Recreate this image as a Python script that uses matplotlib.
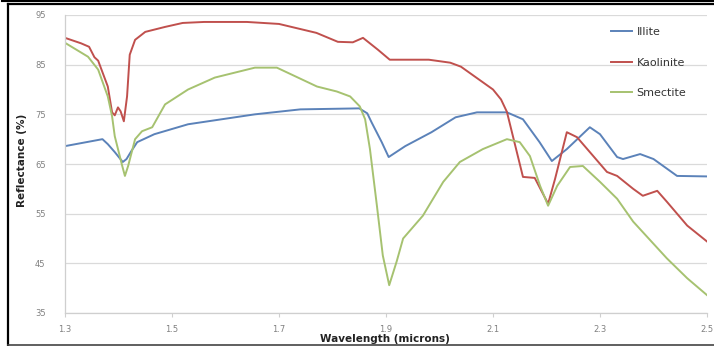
"""Clay mineral reflectance spectra (Illite / Kaolinite / Smectite)."""

import matplotlib
matplotlib.use("Agg")
from matplotlib import pyplot as plt
from matplotlib.lines import Line2D

# wavelength (microns) / reflectance (%)
illite_w = [1.30, 1.37, 1.38, 1.393, 1.408, 1.415, 1.424, 1.435, 1.467, 1.53,
            1.655, 1.74, 1.85, 1.865, 1.873, 1.892, 1.905, 1.936, 1.985, 2.03,
            2.07, 2.126, 2.156, 2.187, 2.21, 2.238, 2.281, 2.30, 2.332, 2.343,
            2.375, 2.40, 2.444, 2.50]
illite_r = [68.6, 70.0, 69.0, 67.4, 65.4, 66.0, 67.6, 69.4, 71.0, 73.0,
            75.0, 76.0, 76.2, 75.2, 73.4, 69.4, 66.4, 68.6, 71.4, 74.4,
            75.4, 75.4, 74.0, 69.4, 65.6, 68.0, 72.4, 71.0, 66.4, 66.0,
            67.0, 66.0, 62.6, 62.5]

kaolinite_w = [1.30, 1.33, 1.345, 1.355, 1.362, 1.38, 1.388, 1.393, 1.399, 1.404,
               1.41, 1.416, 1.421, 1.431, 1.45, 1.487, 1.52, 1.56, 1.64, 1.70,
               1.77, 1.81, 1.838, 1.857, 1.885, 1.907, 1.98, 2.02, 2.04, 2.10,
               2.115, 2.126, 2.156, 2.178, 2.203, 2.216, 2.238, 2.257, 2.281, 2.313,
               2.332, 2.362, 2.38, 2.407, 2.425, 2.463, 2.50]
kaolinite_r = [90.4, 89.3, 88.6, 86.5, 85.8, 80.6, 75.4, 74.8, 76.4, 75.6,
               73.6, 78.6, 87.0, 90.0, 91.6, 92.6, 93.4, 93.6, 93.6, 93.2,
               91.4, 89.6, 89.5, 90.4, 88.0, 86.0, 86.0, 85.4, 84.6, 80.0,
               78.0, 75.5, 62.4, 62.2, 57.0, 62.0, 71.4, 70.4, 67.4, 63.4,
               62.6, 60.0, 58.6, 59.6, 57.4, 52.6, 49.4]

smectite_w = [1.30, 1.343, 1.362, 1.38, 1.388, 1.393, 1.407, 1.412, 1.418, 1.431,
              1.444, 1.463, 1.487, 1.53, 1.58, 1.655, 1.696, 1.771, 1.808, 1.833,
              1.851, 1.861, 1.87, 1.883, 1.894, 1.906, 1.92, 1.932, 1.969, 2.007,
              2.038, 2.081, 2.126, 2.15, 2.169, 2.188, 2.203, 2.22, 2.244, 2.268,
              2.30, 2.332, 2.362, 2.425, 2.463, 2.50]
smectite_r = [89.4, 86.6, 84.0, 78.6, 74.6, 70.6, 64.6, 62.6, 64.6, 70.0,
              71.6, 72.4, 77.0, 80.0, 82.4, 84.4, 84.4, 80.6, 79.6, 78.6,
              76.6, 74.0, 68.0, 56.6, 46.6, 40.6, 45.4, 50.0, 54.6, 61.4,
              65.4, 68.0, 70.0, 69.4, 66.6, 60.6, 56.6, 60.6, 64.4, 64.6,
              61.4, 58.0, 53.4, 46.0, 42.0, 38.6]

x_ticks = [1.3, 1.5, 1.7, 1.9, 2.1, 2.3, 2.5]
y_ticks = [35, 45, 55, 65, 75, 85, 95]

W, H = 714, 346
fig = plt.figure(figsize=(W / 100, H / 100), dpi=100)
ax = fig.add_axes([65 / W, 1 - 313 / H, (707 - 65) / W, (313 - 15) / H])

ax.plot(illite_w, illite_r, color="#5b82b9", lw=1.4, label="Illite",
        solid_joinstyle="round")
ax.plot(kaolinite_w, kaolinite_r, color="#c0504d", lw=1.4, label="Kaolinite",
        solid_joinstyle="round")
ax.plot(smectite_w, smectite_r, color="#a6c270", lw=1.4, label="Smectite",
        solid_joinstyle="round")

ax.set_xlim(1.3, 2.5)
ax.set_ylim(35, 95)
ax.set_xticks(x_ticks)
ax.set_xticklabels([f"{t:.1f}" for t in x_ticks])
ax.set_yticks(y_ticks)
ax.grid(axis="y", color="#dadada", lw=0.9)
ax.set_axisbelow(True)

for side in ("top", "right"):
    ax.spines[side].set_visible(False)
for side in ("left", "bottom"):
    ax.spines[side].set_color("#cfcfcf")
    ax.spines[side].set_linewidth(0.9)

ax.tick_params(axis="y", length=0, pad=14, labelsize=6, labelcolor="#808080")
ax.tick_params(axis="x", length=3, color="#cfcfcf", pad=6, labelsize=6,
               labelcolor="#808080")

fig.text(22 / W, 1 - 160 / H, "Reflectance (%)", rotation=90, ha="center",
         va="center", fontsize=7.5, fontweight="bold", color="#222222")
fig.text(385 / W, 1 - 339 / H, "Wavelength (microns)", ha="center",
         va="center", fontsize=7.5, fontweight="bold", color="#222222")

ax.legend(loc="upper left", bbox_to_anchor=(601 / W, 1 - 17 / H),
          bbox_transform=fig.transFigure, frameon=False, fontsize=8,
          handlelength=1.9, handletextpad=0.4, labelspacing=1.85,
          labelcolor="#333333")

# black frame around the picture
frame = dict(color="black", transform=fig.transFigure)
fig.add_artist(Line2D([2 / W, 1], [1 - 0.8 / H, 1 - 0.8 / H], lw=1.5, **frame))
fig.add_artist(Line2D([7.5 / W, 1], [1 - 3.8 / H, 1 - 3.8 / H], lw=1.6, **frame))
fig.add_artist(Line2D([7.8 / W, 7.8 / W], [1 - 3.8 / H, 1 / H], lw=1.6, **frame))
fig.add_artist(Line2D([7.8 / W, 1], [1.2 / H, 1.2 / H], lw=1.2, color="#444444",
                      transform=fig.transFigure))

fig.savefig("out.png", dpi=100)
